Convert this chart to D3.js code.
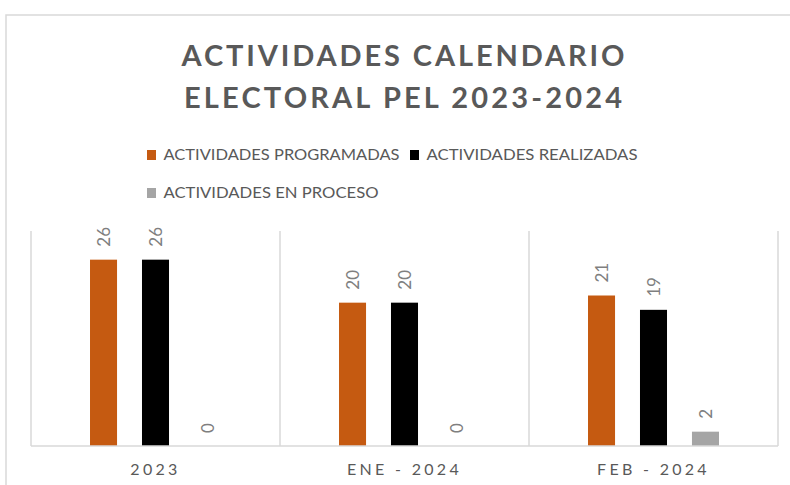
<!DOCTYPE html>
<html>
<head>
<meta charset="utf-8">
<script src="https://cdn.jsdelivr.net/npm/d3@7"></script>
<style>
  body { margin: 0; background: #fff; }
  svg { display: block; font-family: Lato, "Open Sans", sans-serif; }
</style>
</head>
<body>
<div id="chart"></div>
<script>
// datos del grafico
var categories = ["2023", "ENE - 2024", "FEB - 2024"];
var seriesNames = ["ACTIVIDADES PROGRAMADAS", "ACTIVIDADES REALIZADAS", "ACTIVIDADES EN PROCESO"];
var programadas = [26, 20, 21];
var realizadas = [26, 20, 19];
var enProceso = [0, 0, 2];
var colors = ["#c55a11", "#000000", "#a5a5a5"];

var values = [programadas, realizadas, enProceso];
var width = 790, height = 485;

var svg = d3.select("#chart").append("svg").attr("width", width).attr("height", height);

// marco del grafico
svg.append("path")
    .attr("d", "M6," + height + "V15H" + width)
    .attr("fill", "none")
    .attr("stroke", "#d9d9d9")
    .attr("stroke-width", 1.5);

// titulo
var title = svg.append("text")
    .attr("text-anchor", "middle")
    .attr("fill", "#595959")
    .style("font-size", "29px")
    .style("font-weight", "bold");
title.append("tspan").attr("x", 403).attr("y", 66)
    .attr("textLength", 443).attr("lengthAdjust", "spacing")
    .text("ACTIVIDADES  CALENDARIO");
title.append("tspan").attr("x", 403).attr("y", 108)
    .attr("textLength", 438).attr("lengthAdjust", "spacing")
    .text("ELECTORAL  PEL 2023-2024");

// leyenda
var legendItems = [
    {x: 147, y: 160, len: 236},
    {x: 410, y: 160, len: 211},
    {x: 147, y: 198, len: 215}
];
var legend = svg.selectAll(".legend")
    .data(seriesNames)
    .enter().append("g")
    .attr("class", "legend")
    .attr("transform", function(d, i) { return "translate(" + legendItems[i].x + "," + legendItems[i].y + ")"; });
legend.append("rect")
    .attr("x", 0).attr("y", -10)
    .attr("width", 9).attr("height", 10)
    .attr("fill", function(d, i) { return colors[i]; });
legend.append("text")
    .attr("x", 16.5)
    .attr("fill", "#595959")
    .style("font-size", "16px")
    .attr("textLength", function(d, i) { return legendItems[i].len; })
    .attr("lengthAdjust", "spacingAndGlyphs")
    .text(function(d) { return d; });

// area de trazado
var plot = {left: 31, right: 778, top: 231, bottom: 446};

var x0 = d3.scaleBand()
    .domain(categories)
    .range([plot.left, plot.right]);

var bw = x0.bandwidth();
var x1 = d3.scaleBand()
    .domain(d3.range(seriesNames.length))
    .range([bw * 0.237, bw * 0.763])
    .paddingInner(0.48);

var y = d3.scaleLinear()
    .domain([0, 30])
    .range([plot.bottom, plot.top]);

// separadores de categoria
var grid = svg.append("g").attr("stroke", "#d9d9d9").attr("stroke-width", 1.5);
categories.concat([null]).forEach(function(c, i) {
    var xx = i < categories.length ? x0(c) : plot.right;
    grid.append("line")
        .attr("x1", xx).attr("x2", xx)
        .attr("y1", plot.top).attr("y2", plot.bottom);
});

var groups = svg.selectAll(".cat")
    .data(categories)
    .enter().append("g")
    .attr("class", "cat")
    .attr("transform", function(d) { return "translate(" + x0(d) + ",0)"; });

var bars = groups.selectAll(".bar")
    .data(function(d, ci) { return values.map(function(s, si) { return {s: si, v: s[ci]}; }); })
    .enter();

bars.append("rect")
    .attr("x", function(d) { return x1(d.s); })
    .attr("y", function(d) { return y(d.v); })
    .attr("width", x1.bandwidth())
    .attr("height", function(d) { return y(0) - y(d.v); })
    .attr("fill", function(d) { return colors[d.s]; });

// etiquetas de datos (rotadas)
bars.append("text")
    .attr("transform", function(d) {
        return "translate(" + (x1(d.s) + x1.bandwidth() / 2) + "," + (y(d.v) - 13) + ") rotate(-90)";
    })
    .attr("dy", "0.36em")
    .attr("fill", "#7f7f7f")
    .style("font-size", "17px")
    .text(function(d) { return d.v; });

// eje x
var xAxis = svg.append("g")
    .attr("transform", "translate(0," + plot.bottom + ")")
    .call(d3.axisBottom(x0).tickSize(0).tickPadding(0));
xAxis.select(".domain")
    .attr("stroke", "#d9d9d9")
    .attr("stroke-width", 1.5)
    .attr("d", "M" + plot.left + ",0H" + plot.right);
xAxis.selectAll("text")
    .attr("y", 28.5)
    .attr("dy", 0)
    .attr("fill", "#595959")
    .style("font-family", "Lato, sans-serif")
    .style("font-size", "16px")
    .style("letter-spacing", "3.3px");
</script>
</body>
</html>
